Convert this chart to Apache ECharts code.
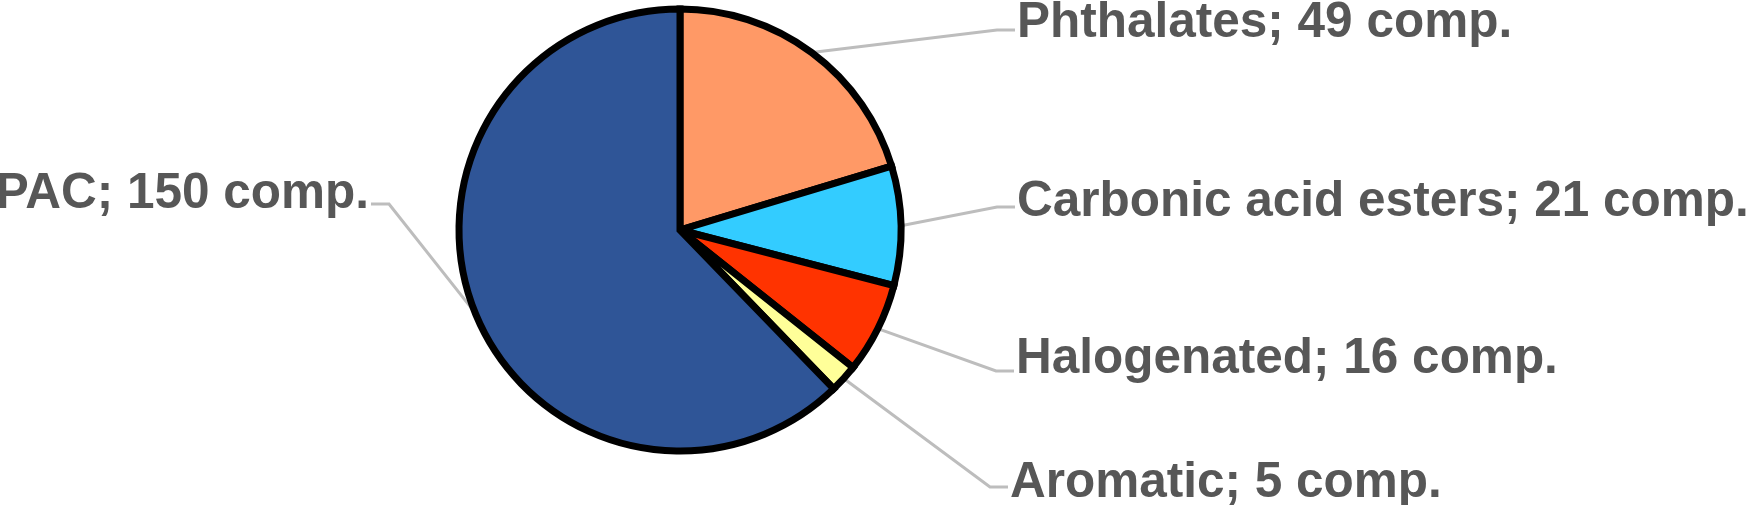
<!DOCTYPE html>
<html>
<head>
<meta charset="utf-8">
<script src="https://cdn.jsdelivr.net/npm/echarts@6/dist/echarts.min.js"></script>
<style>
html,body{margin:0;padding:0;background:#fff;}
#c{width:1753px;height:505px;}
</style>
</head>
<body>
<div id="c"></div>
<script>
// Data
const categories = ['Phthalates', 'Carbonic acid esters', 'Halogenated', 'Aromatic', 'PAC'];
const counts = [49, 21, 16, 5, 150];
const colors = ['#FF9966', '#33CCFF', '#FF3300', '#FFFF99', '#2F5597'];

// Label layout (text anchor x, text middle y, line y), in px
const labelX = [1017, 1017, 1016, 1010, 369];
const labelY = [23, 202, 359, 483, 194];
const lineY = [30, 207, 371, 487, 204];
const labelSide = ['left', 'left', 'left', 'left', 'right'];

const chart = echarts.init(document.getElementById('c'), null, {renderer: 'canvas'});
chart.setOption({
  backgroundColor: '#ffffff',
  animation: false,
  series: [{
    type: 'pie',
    center: [680, 230],
    radius: 221,
    startAngle: 90,
    clockwise: true,
    avoidLabelOverlap: false,
    data: categories.map((c, i) => ({name: c, value: counts[i], itemStyle: {color: colors[i]}})),
    itemStyle: {borderColor: '#000000', borderWidth: 7, borderJoin: 'miter'},
    label: {
      show: true,
      position: 'outside',
      formatter: '{b}; {c} comp.',
      fontFamily: 'Liberation Sans, Arial, sans-serif',
      fontWeight: 'bold',
      fontSize: 49.5,
      color: '#575757'
    },
    labelLine: {
      show: true,
      length: 20,
      length2: 20,
      lineStyle: {color: '#BDBDBD', width: 3}
    },
    labelLayout: function (p) {
      const i = p.dataIndex;
      const start = p.labelLinePoints ? p.labelLinePoints[0] : [0, 0];
      const x = labelX[i];
      const dir = labelSide[i] === 'left' ? -1 : 1;
      const end = [x + dir * 2, lineY[i]];
      const mid = [x + dir * 20, lineY[i]];
      return {
        x: x,
        y: labelY[i],
        align: labelSide[i],
        verticalAlign: 'middle',
        labelLinePoints: [start, mid, end]
      };
    }
  }]
});
</script>
</body>
</html>
